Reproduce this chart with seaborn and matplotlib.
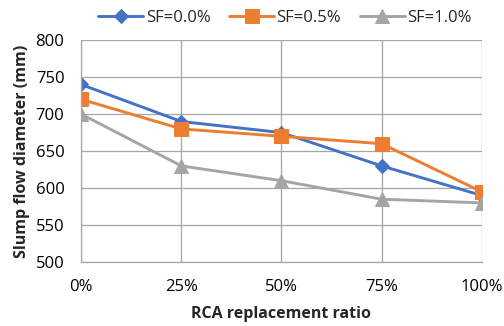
import matplotlib
matplotlib.use("Agg")
import matplotlib.pyplot as plt
import seaborn as sns
import pandas as pd

categories = ["0%", "25%", "50%", "75%", "100%"]
sf00 = [740, 690, 675, 630, 590]
sf05 = [720, 680, 670, 660, 595]
sf10 = [700, 630, 610, 585, 580]
series_names = ["SF=0.0%", "SF=0.5%", "SF=1.0%"]
colors = ["#4472C4", "#ED7D31", "#A5A5A5"]
markers = ["D", "s", "^"]
msizes = [7.5, 9.4, 9.4]

rows = []
for name, vals in zip(series_names, [sf00, sf05, sf10]):
    for c, v in zip(categories, vals):
        rows.append({"ratio": c, "value": v, "series": name})
df = pd.DataFrame(rows)

sns.set_theme(style="white")
plt.rcParams["font.family"] = ["Open Sans", "DejaVu Sans"]

fig, ax = plt.subplots(figsize=(5.04, 3.26), dpi=100)
fig.subplots_adjust(left=0.161, right=0.956, top=0.877, bottom=0.196)

for name, col, mk, ms in zip(series_names, colors, markers, msizes):
    sub = df[df["series"] == name]
    sns.lineplot(data=sub, x="ratio", y="value", ax=ax, color=col, marker=mk,
                 markersize=ms, markeredgecolor=col, linewidth=2.1, label=name,
                 sort=False)

ax.set_xlim(0, len(categories) - 1)
ax.set_ylim(500, 800)
ax.set_yticks(range(500, 801, 50))
ax.grid(True, color="#a6a6a6", linewidth=0.9)
for s in ["top", "right"]:
    ax.spines[s].set_visible(False)
for s in ["left", "bottom"]:
    ax.spines[s].set_color("#a6a6a6")
    ax.spines[s].set_linewidth(0.9)
ax.tick_params(axis="both", which="both", length=5, color="#a6a6a6", width=0.9,
               labelsize=12, labelcolor="#000000")
ax.tick_params(axis="x", pad=7)
ax.tick_params(axis="y", pad=7)
ax.set_xlabel("RCA replacement ratio", fontsize=11.5, fontweight="bold", labelpad=8)
ax.set_ylabel("Slump flow diameter (mm)", fontsize=11.5, fontweight="bold", labelpad=4)

ax.legend(loc="center", bbox_to_anchor=(285 / 504, 1 - 18 / 326),
          bbox_transform=fig.transFigure, ncol=3, frameon=False,
          fontsize=12, handlelength=2.7, columnspacing=1.1, handletextpad=0.15)
ax.set_axisbelow(True)
fig.savefig("out.png", dpi=100)
